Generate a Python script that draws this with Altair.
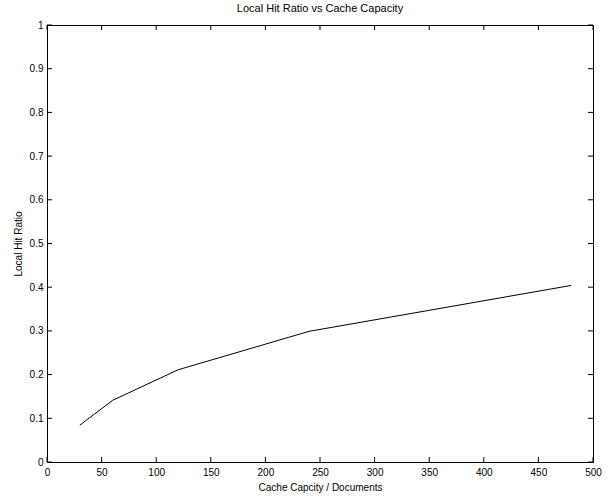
import altair as alt
import pandas as pd

capacity = [30, 60, 120, 240, 480]
hit_ratio = [0.084, 0.141, 0.211, 0.299, 0.404]
x_ticks = [0, 50, 100, 150, 200, 250, 300, 350, 400, 450, 500]
y_ticks = [0, 0.1, 0.2, 0.3, 0.4, 0.5, 0.6, 0.7, 0.8, 0.9, 1]

W, H = 546, 437
FONT = "Liberation Sans"

df = pd.DataFrame({"capacity": capacity, "ratio": hit_ratio})
xt = pd.DataFrame({"v": x_ticks})
yt = pd.DataFrame({"v": y_ticks})

xs = alt.Scale(domain=[0, 500], nice=False, zero=False)
ys = alt.Scale(domain=[0, 1], nice=False, zero=False)

line = alt.Chart(df).mark_line(color="black", strokeWidth=1).encode(
    x=alt.X("capacity:Q", scale=xs,
            axis=alt.Axis(title="Cache Capcity / Documents", values=x_ticks,
                          ticks=False, labelPadding=5, titlePadding=5,
                          format="d", labelFlush=False, grid=False)),
    y=alt.Y("ratio:Q", scale=ys,
            axis=alt.Axis(title="Local Hit Ratio", values=y_ticks,
                          ticks=False, labelPadding=4, titlePadding=6,
                          format="~g", labelFlush=False, grid=False)),
)

tick_bottom = alt.Chart(xt).mark_rule(color="black", strokeWidth=1).encode(
    x=alt.X("v:Q", scale=xs), y=alt.value(H), y2=alt.value(H - 5))
tick_top = alt.Chart(xt).mark_rule(color="black", strokeWidth=1).encode(
    x=alt.X("v:Q", scale=xs), y=alt.value(0), y2=alt.value(5))
tick_left = alt.Chart(yt).mark_rule(color="black", strokeWidth=1).encode(
    y=alt.Y("v:Q", scale=ys), x=alt.value(0), x2=alt.value(5))
tick_right = alt.Chart(yt).mark_rule(color="black", strokeWidth=1).encode(
    y=alt.Y("v:Q", scale=ys), x=alt.value(W), x2=alt.value(W - 5))

chart = alt.layer(line, tick_bottom, tick_top, tick_left, tick_right).properties(
    width=W, height=H,
    title=alt.TitleParams("Local Hit Ratio vs Cache Capacity", fontSize=11,
                          fontWeight="normal", font=FONT, color="black", offset=6),
    autosize=alt.AutoSizeParams(type="none"),
    padding={"left": 47, "top": 25, "right": 15, "bottom": 36},
    background="white",
).configure_view(stroke="black", strokeWidth=1).configure_axis(
    grid=False, domain=False, labelFont=FONT, titleFont=FONT, labelFontSize=10,
    titleFontSize=10, labelColor="black", titleColor="black", titleFontWeight="normal",
)

chart.save("out.html", embed_options={"renderer": "svg", "actions": False})
